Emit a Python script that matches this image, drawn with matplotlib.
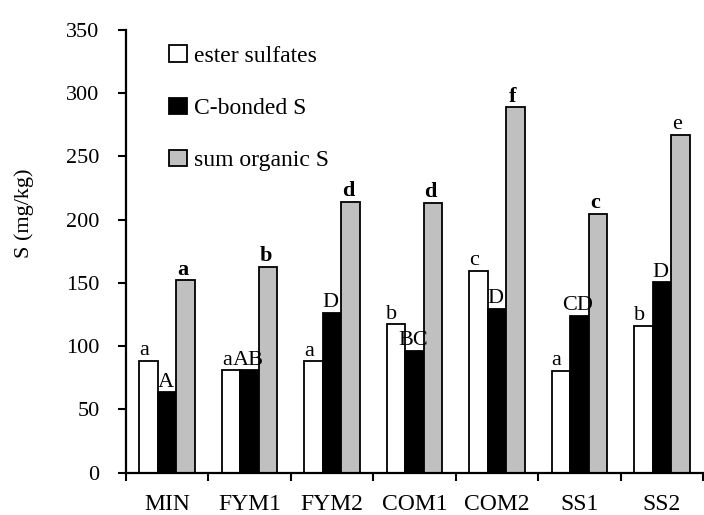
import numpy as np
import matplotlib
matplotlib.use("Agg")
import matplotlib.pyplot as plt
from matplotlib.patches import Patch

plt.rcParams['font.family'] = ['Liberation Serif', 'DejaVu Serif']

treatments = ['MIN', 'FYM1', 'FYM2', 'COM1', 'COM2', 'SS1', 'SS2']
ester = [88.5, 81, 88, 117.5, 159.5, 80.5, 116]
cbonded = [63.5, 81, 126.5, 96.5, 129.5, 124, 150.5]
total = [152, 163, 214, 213.5, 289, 204.5, 267]

ester_lbl = ['a', 'a', 'a', 'b', 'c', 'a', 'b']
cbonded_lbl = ['A', 'AB', 'D', 'BC', 'D', 'CD', 'D']
total_lbl = ['a', 'b', 'd', 'd', 'f', 'c', 'e']
total_bold = [True, True, True, True, True, True, False]

series_names = ['ester sulfates', 'C-bonded S', 'sum organic S']
colors = ['white', 'black', '#c0c0c0']

fig = plt.figure(figsize=(7.04, 5.15), dpi=100)
ax = fig.add_axes([126/704, 1 - 472.7/515, 577/704, 442.7/515])

x = np.arange(len(treatments))
w = 0.225
lw = 1.3

for k, (vals, c) in enumerate(zip([ester, cbonded, total], colors)):
    ax.bar(x + (k - 1) * w, vals, w, color=c, edgecolor='black', linewidth=lw)

def put_labels(vals, labels, offset, dx, bold=None):
    for i, (v, t) in enumerate(zip(vals, labels)):
        fw = 'bold' if (bold is not None and bold[i]) else 'normal'
        ax.annotate(t, (x[i] + offset * w, v), xytext=(dx, 4), textcoords='offset points',
                    ha='center', va='baseline', fontsize=16, fontweight=fw)

put_labels(ester, ester_lbl, -1, -3)
put_labels(cbonded, cbonded_lbl, 0, -1)
put_labels(total, total_lbl, 1, -2, total_bold)

ax.set_xlim(-0.5, 6.5)
ax.set_ylim(0, 350)
ax.set_yticks(np.arange(0, 351, 50))
ax.tick_params(axis='y', direction='out', length=6, width=1.5, pad=13, labelsize=16)

ax.set_xticks(np.arange(-0.5, 7, 1))
ax.set_xticklabels([])
ax.set_xticks(x, minor=True)
ax.set_xticklabels(treatments, minor=True)
ax.tick_params(axis='x', which='major', direction='out', length=6, width=1.5)
ax.tick_params(axis='x', which='minor', length=0, pad=15, labelsize=17)

for s in ['top', 'right']:
    ax.spines[s].set_visible(False)
for s in ['left', 'bottom']:
    ax.spines[s].set_linewidth(1.6)

ax.set_ylabel('S (mg/kg)', fontsize=16)
ax.yaxis.set_label_coords(-0.16, 0.585)

handles = [Patch(facecolor=c, edgecolor='black', linewidth=1.3) for c in colors]
ax.legend(handles, series_names, loc='upper left', bbox_to_anchor=(0.075, 0.965),
          frameon=False, fontsize=17, handlelength=0.75, handleheight=0.7,
          handletextpad=0.3, labelspacing=1.3, borderpad=0, borderaxespad=0)

fig.savefig('out.png', dpi=100)
